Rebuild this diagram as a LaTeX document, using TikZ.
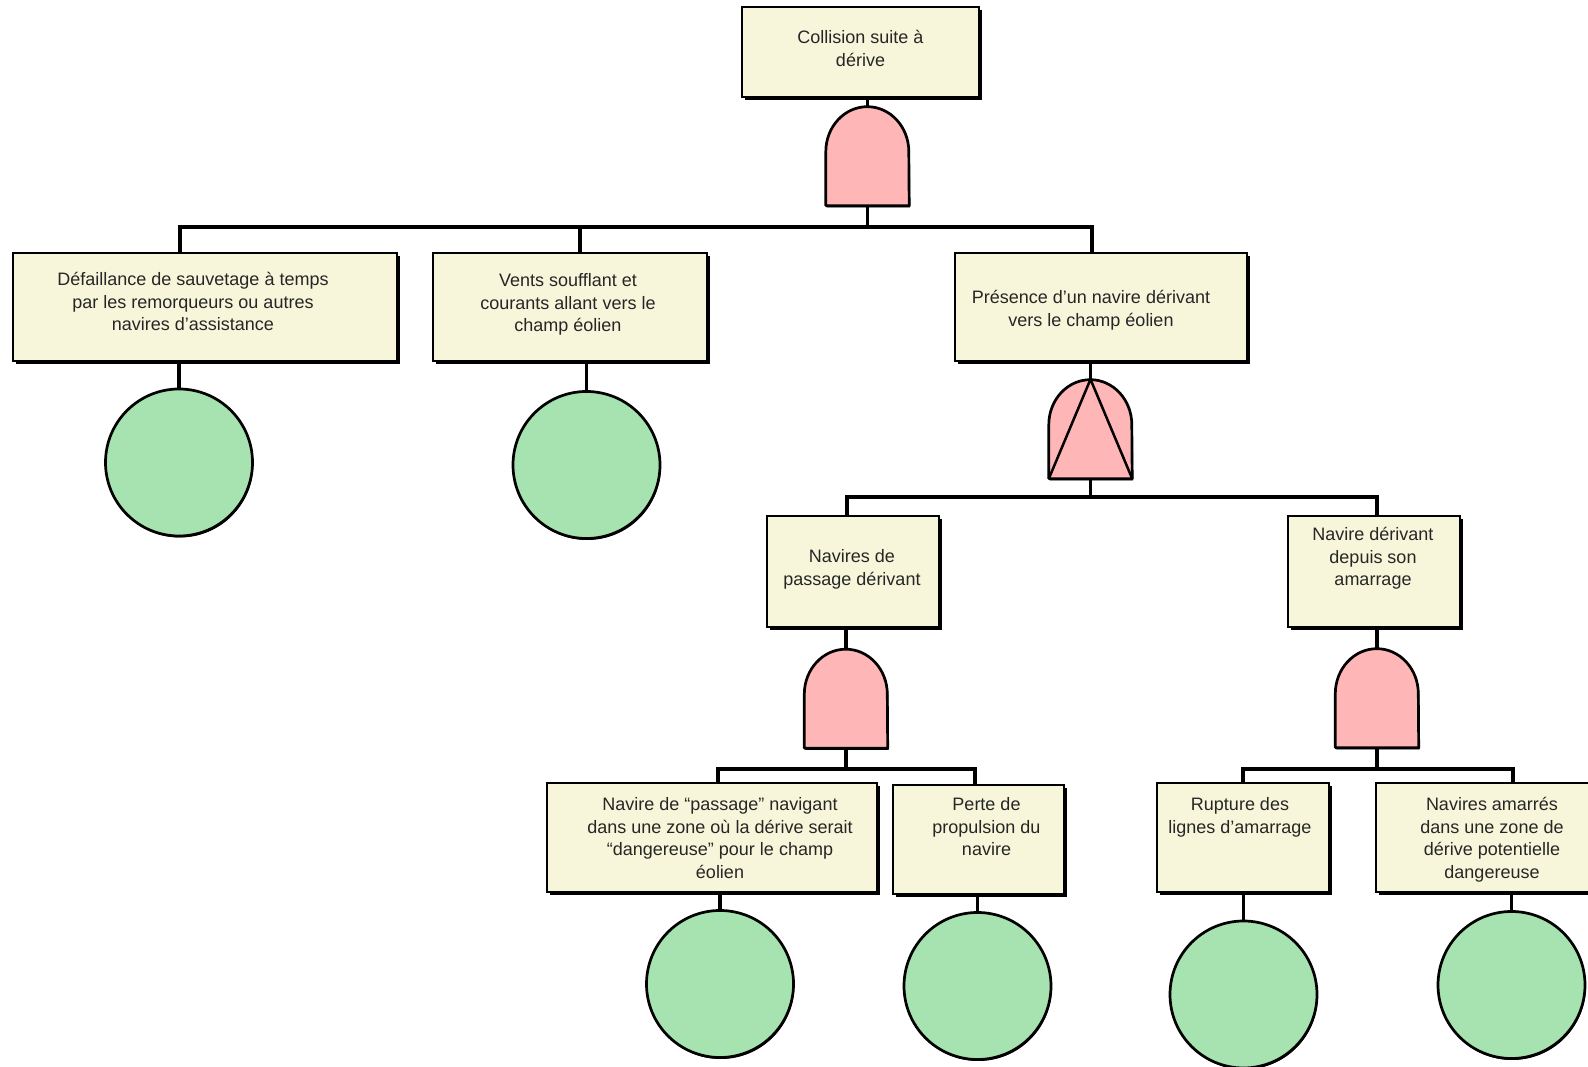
\documentclass[tikz,border=0pt]{standalone}
\usepackage{fontspec}
\setmainfont{Liberation Sans}
\usetikzlibrary{shadows,calc}
\definecolor{boxfill}{RGB}{247,246,218}
\definecolor{gatefill}{RGB}{255,182,182}
\definecolor{evfill}{RGB}{166,227,176}
\definecolor{txt}{RGB}{38,38,38}
\pgfdeclarelayer{bg}
\pgfsetlayers{bg,main}
\newcommand{\ftxt}[5]{\parbox[c][#2][t]{#1}{\centering\leftskip=#4 plus 1fil\rightskip=-#4 plus 1fil\vspace*{#3}\rule{0pt}{15pt}#5}}
\tikzset{
  ftbox/.style={rectangle, draw=black, line width=2.8pt, fill=boxfill, inner sep=0pt,
    general shadow={fill=black, shadow xshift=2.8pt, shadow yshift=-2.8pt},
    text=txt, font=\fontsize{18pt}{22.5pt}\selectfont},
  gatebox/.style={rectangle, inner sep=0pt, minimum width=83pt, minimum height=99pt},
  gateshape/.style={draw=black, line width=2.7pt, fill=gatefill, line join=round,
    general shadow={fill=black, shadow xshift=1pt, shadow yshift=-1.8pt}},
  gateline/.style={draw=black, line width=2.5pt},
  basic/.style={circle, draw=black, line width=2.7pt, fill=evfill, inner sep=0pt, minimum size=147pt,
    general shadow={fill=black, shadow xshift=0.8pt, shadow yshift=-1.5pt}},
  conn/.style={draw=black, line width=3.4pt, line cap=rect}
}
\begin{document}
\begin{tikzpicture}[x=1pt,y=1pt]
\useasboundingbox (0,0) rectangle (1588,1067);
% boxes
\node[ftbox] (T) at (860.5,1015) {\ftxt{237pt}{90pt}{22pt}{0pt}{Collision suite à\\dérive}};
\node[ftbox] (A) at (205,760) {\ftxt{384pt}{108pt}{18pt}{-12pt}{Défaillance de sauvetage à temps\\par les remorqueurs ou autres\\navires d'assistance}};
\node[ftbox] (B) at (570,760) {\ftxt{274pt}{108pt}{19pt}{-2pt}{Vents soufflant et\\courants allant vers le\\champ éolien}};
\node[ftbox] (C) at (1101,760) {\ftxt{292pt}{108pt}{36pt}{-10pt}{Présence d’un navire dérivant\\vers le champ éolien}};
\node[ftbox] (D) at (853,495.5) {\ftxt{172pt}{111pt}{32pt}{-1pt}{Navires de\\passage dérivant}};
\node[ftbox] (E) at (1374,495.5) {\ftxt{172pt}{111pt}{10pt}{-1pt}{Navire dérivant\\depuis son\\amarrage}};
\node[ftbox] (F) at (712,229.5) {\ftxt{330pt}{109pt}{13pt}{8pt}{Navire de “passage” navigant\\dans une zone où la dérive serait\\“dangereuse” pour le champ\\éolien}};
\node[ftbox] (G) at (978.5,227.5) {\ftxt{171pt}{109pt}{11pt}{8pt}{Perte de\\propulsion du\\navire}};
\node[ftbox] (H) at (1243,229.5) {\ftxt{172pt}{109pt}{13pt}{-3pt}{Rupture des\\lignes d’amarrage}};
\node[ftbox] (I) at (1493,229.5) {\ftxt{234pt}{109pt}{13pt}{-1pt}{Navires amarrés\\dans une zone de\\dérive potentielle\\dangereuse}};
% gates
\node[gatebox] (g1) at (867.5,911) {};
\node[gatebox] (gC) at (1090.5,638) {};
\node[gatebox] (gD) at (846,368.5) {};
\node[gatebox] (gE) at (1377,369) {};
\foreach \g in {g1,gC,gD,gE}
  \draw[gateshape] (\g.south west) -- ++(0,54) arc[start angle=180,end angle=0,x radius=41.5pt,y radius=45pt] -- (\g.south east) -- cycle;
\draw[gateline] (gC.south west) -- (gC.north) -- (gC.south east);
% basic events
\node[basic] (cA) at (179,604.5) {};
\node[basic] (cB) at (586.5,602) {};
\node[basic] (cF) at (720,83) {};
\node[basic] (cG) at (977.5,81) {};
\node[basic] (cH) at (1243.5,72.5) {};
\node[basic] (cI) at (1511.5,82) {};
% drop points
\coordinate (dA) at (180,840);
\coordinate (dB) at (580,840);
\coordinate (dC) at (1092,840);
\coordinate (dD) at (847,570);
\coordinate (dE) at (1377,570);
\coordinate (dF) at (718,298);
\coordinate (dG) at (975,298);
\coordinate (dH) at (1243,298);
\coordinate (dI) at (1513,298);
\begin{pgfonlayer}{bg}
\fill[white] (0,0) rectangle (1588,1067);
\draw[conn] (g1.north) -- (g1.north |- T.south);
\draw[conn] (g1.south) -- (g1.south |- dA);
\draw[conn] (dA) -- (dC);
\draw[conn] (dA) -- (dA |- A.north);
\draw[conn] (dB) -- (dB |- B.north);
\draw[conn] (dC) -- (dC |- C.north);
\draw[conn] (cA.north) -- (cA.north |- A.south);
\draw[conn] (cB.north) -- (cB.north |- B.south);
\draw[conn] (gC.north) -- (gC.north |- C.south);
\draw[conn] (gC.south) -- (gC.south |- dD);
\draw[conn] (dD) -- (dE);
\draw[conn] (dD) -- (dD |- D.north);
\draw[conn] (dE) -- (dE |- E.north);
\draw[conn] (gD.north) -- (gD.north |- D.south);
\draw[conn] (gE.north) -- (gE.north |- E.south);
\draw[conn] (gD.south) -- (gD.south |- dF);
\draw[conn] (dF) -- (dG);
\draw[conn] (dF) -- (dF |- F.north);
\draw[conn] (dG) -- (dG |- G.north);
\draw[conn] (gE.south) -- (gE.south |- dH);
\draw[conn] (dH) -- (dI);
\draw[conn] (dH) -- (dH |- H.north);
\draw[conn] (dI) -- (dI |- I.north);
\draw[conn] (cF.north) -- (cF.north |- F.south);
\draw[conn] (cG.north) -- (cG.north |- G.south);
\draw[conn] (cH.north) -- (cH.north |- H.south);
\draw[conn] (cI.north) -- (cI.north |- I.south);
\end{pgfonlayer}
\end{tikzpicture}
\end{document}
